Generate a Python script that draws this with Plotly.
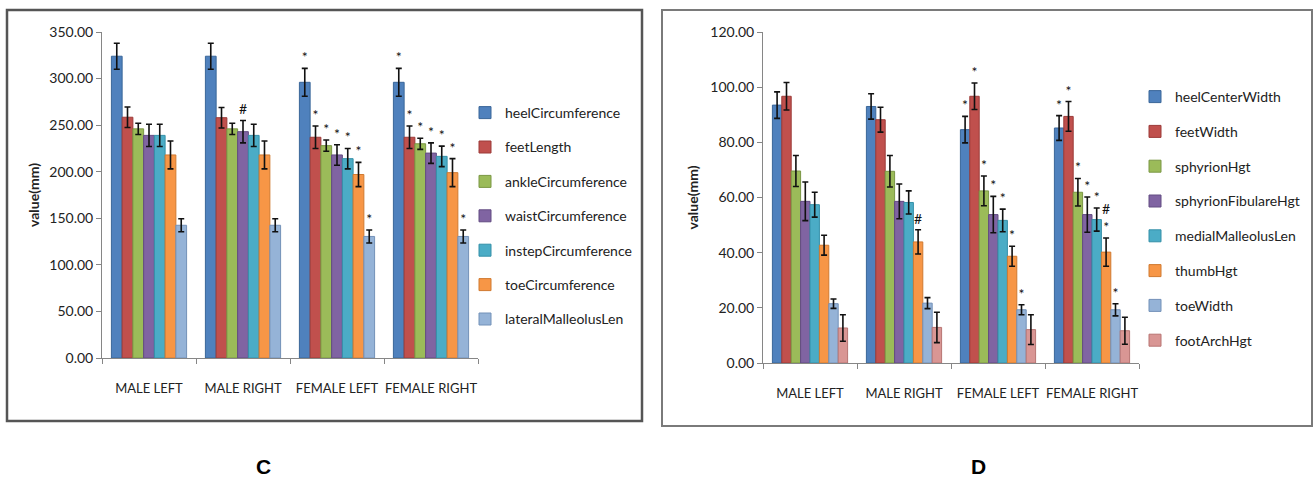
import plotly.graph_objects as go

W, H = 1314, 484

# ---------------- data: panel C ----------------
groups = ["MALE LEFT", "MALE RIGHT", "FEMALE LEFT", "FEMALE RIGHT"]

c_names = ["heelCircumference", "feetLength", "ankleCircumference", "waistCircumference",
           "instepCircumference", "toeCircumference", "lateralMalleolusLen"]
c_heel = [324, 324, 296, 296]
c_feet = [258.5, 258, 237, 237]
c_ankle = [246, 246, 228, 230]
c_waist = [239, 243, 218, 220]
c_instep = [239, 239, 214, 216.5]
c_toe = [218, 218, 197, 199]
c_lateral = [142.5, 142.5, 130.5, 130.5]
c_vals = [c_heel, c_feet, c_ankle, c_waist, c_instep, c_toe, c_lateral]

c_err_heel = [14, 14, 15, 15]
c_err_feet = [11, 11, 12, 12]
c_err_ankle = [6, 6, 6, 6]
c_err_waist = [12, 12, 11, 11]
c_err_instep = [12, 12, 11, 11]
c_err_toe = [15, 15, 13, 15]
c_err_lateral = [7, 7, 7, 7]
c_errs = [c_err_heel, c_err_feet, c_err_ankle, c_err_waist, c_err_instep, c_err_toe, c_err_lateral]

c_mark_heel = ["", "", "*", "*"]
c_mark_feet = ["", "", "*", "*"]
c_mark_ankle = ["", "", "*", "*"]
c_mark_waist = ["", "#", "*", "*"]
c_mark_instep = ["", "", "*", "*"]
c_mark_toe = ["", "", "*", "*"]
c_mark_lateral = ["", "", "*", "*"]
c_marks = [c_mark_heel, c_mark_feet, c_mark_ankle, c_mark_waist, c_mark_instep, c_mark_toe, c_mark_lateral]

c_ticks = [0, 50, 100, 150, 200, 250, 300, 350]

# ---------------- data: panel D ----------------
d_names = ["heelCenterWidth", "feetWidth", "sphyrionHgt", "sphyrionFibulareHgt",
           "medialMalleolusLen", "thumbHgt", "toeWidth", "footArchHgt"]
d_heel = [93.5, 93, 84.6, 85.2]
d_feet = [96.7, 88.2, 96.7, 89.4]
d_sphyrion = [69.6, 69.5, 62.4, 61.9]
d_fibulare = [58.6, 58.6, 53.8, 53.8]
d_medial = [57.4, 58.2, 51.7, 52]
d_thumb = [42.7, 43.9, 38.7, 40.2]
d_toe = [21.5, 21.7, 19.3, 19.3]
d_arch = [12.7, 12.9, 12.1, 11.7]
d_vals = [d_heel, d_feet, d_sphyrion, d_fibulare, d_medial, d_thumb, d_toe, d_arch]

d_err_heel = [4.8, 4.6, 4.8, 4.5]
d_err_feet = [5, 4.5, 4.8, 5.4]
d_err_sphyrion = [5.6, 5.7, 5.4, 5]
d_err_fibulare = [7, 6.3, 6.6, 6.4]
d_err_medial = [4.5, 4.2, 4.1, 4.2]
d_err_thumb = [3.6, 4.4, 3.6, 5.1]
d_err_toe = [1.7, 2, 1.8, 2.2]
d_err_arch = [4.8, 5.5, 5.4, 4.9]
d_errs = [d_err_heel, d_err_feet, d_err_sphyrion, d_err_fibulare, d_err_medial,
          d_err_thumb, d_err_toe, d_err_arch]

d_mark_heel = ["", "", "*", "*"]
d_mark_feet = ["", "", "*", "*"]
d_mark_sphyrion = ["", "", "*", "*"]
d_mark_fibulare = ["", "", "*", "*"]
d_mark_medial = ["", "", "*", "*"]
d_mark_thumb = ["", "#", "*", "#<br>*"]
d_mark_toe = ["", "", "*", "*"]
d_mark_arch = ["", "", "", ""]
d_marks = [d_mark_heel, d_mark_feet, d_mark_sphyrion, d_mark_fibulare, d_mark_medial,
           d_mark_thumb, d_mark_toe, d_mark_arch]

d_ticks = [0, 20, 40, 60, 80, 100, 120]

c_colors = ["#4F81BD", "#C0504D", "#9BBB59", "#8064A2", "#4BACC6", "#F79646", "#95B3D7"]
d_colors = ["#4F81BD", "#C0504D", "#9BBB59", "#8064A2", "#4BACC6", "#F79646", "#95B3D7", "#D99694"]
c_lines = ["#3A6699", "#9C3B38", "#7A9744", "#634C82", "#3590A8", "#D07A30", "#7391B8"]
d_lines = ["#3A6699", "#9C3B38", "#7A9744", "#634C82", "#3590A8", "#D07A30", "#7391B8", "#B87573"]

FONT = "Lato, Open Sans, sans-serif"

fig = go.Figure()


def add_panel(names, vals, errs, marks, colors, lines, xa, ya, legend):
    for i, (nm, v, e, mk) in enumerate(zip(names, vals, errs, marks)):
        fig.add_trace(go.Bar(
            x=groups, y=v, name=nm, xaxis=xa, yaxis=ya, offsetgroup=str(i),
            legend=legend, legendgroup=legend + str(i),
            marker=dict(color=colors[i], line=dict(color=lines[i], width=1)),
            error_y=dict(type="data", array=e, visible=True, color="#111111",
                         thickness=1.6, width=3),
        ))
    # transparent overlay bars that carry the significance marks above the error bars
    for i, (v, e, mk) in enumerate(zip(vals, errs, marks)):
        tops = [a + b for a, b in zip(v, e)]
        fig.add_trace(go.Bar(
            x=groups, y=tops, xaxis=xa, yaxis=ya, offsetgroup=str(i), showlegend=False,
            marker=dict(color="rgba(0,0,0,0)", line=dict(width=0)),
            text=mk, textposition="outside", constraintext="none", cliponaxis=False,
            textfont=dict(family=FONT, size=14, color="#111111"), hoverinfo="skip",
        ))


add_panel(c_names, c_vals, c_errs, c_marks, c_colors, c_lines, "x", "y", "legend")
add_panel(d_names, d_vals, d_errs, d_marks, d_colors, d_lines, "x2", "y2", "legend2")


def px(x):
    return x / W


def py(y):
    return 1 - y / H


axis_common = dict(showline=True, linecolor="#868686", linewidth=1, ticks="outside",
                   tickcolor="#868686", ticklen=5, showgrid=False, zeroline=False,
                   automargin=False)
ytick_font = dict(family=FONT, size=14, color="#222222")
xtick_font = dict(family=FONT, size=13, color="#222222")

fig.update_layout(
    width=W, height=H, margin=dict(l=0, r=0, t=0, b=0, autoexpand=False),
    paper_bgcolor="white", plot_bgcolor="white",
    barmode="group", bargap=0.2, bargroupgap=0,
    showlegend=True,
    font=dict(family=FONT, color="#222222"),
    xaxis=dict(domain=[px(102), px(478)], anchor="y", tickson="boundaries", tickangle=0,
               ticklabelstandoff=18, tickfont=xtick_font, **axis_common),
    yaxis=dict(domain=[py(358), py(32)], anchor="x", range=[0, 350], tickvals=c_ticks,
               tickformat=".2f", tickfont=ytick_font,
               title=dict(text="<b>value(mm)</b>", font=dict(family=FONT, size=14), standoff=6),
               **axis_common),
    xaxis2=dict(domain=[px(763), px(1139)], anchor="y2", tickson="boundaries", tickangle=0,
                ticklabelstandoff=18, tickfont=xtick_font, **axis_common),
    yaxis2=dict(domain=[py(363), py(32)], anchor="x2", range=[0, 120], tickvals=d_ticks,
                tickformat=".2f", tickfont=ytick_font,
                title=dict(text="<b>value(mm)</b>", font=dict(family=FONT, size=14), standoff=8),
                **axis_common),
    legend=dict(x=px(465), y=py(97), xanchor="left", yanchor="top", tracegroupgap=13.2,
                font=dict(family=FONT, size=14, color="#222222"), bgcolor="rgba(0,0,0,0)",
                itemclick=False),
    legend2=dict(x=px(1135), y=py(81), xanchor="left", yanchor="top", tracegroupgap=13.6,
                 font=dict(family=FONT, size=14, color="#222222"), bgcolor="rgba(0,0,0,0)",
                 itemclick=False),
    shapes=[
        dict(type="rect", xref="paper", yref="paper", x0=px(7), x1=px(642), y0=py(421), y1=py(10),
             line=dict(color="#555555", width=2.5)),
        dict(type="rect", xref="paper", yref="paper", x0=px(662), x1=px(1312), y0=py(426), y1=py(10),
             line=dict(color="#7a7a7a", width=2)),
    ],
    annotations=[
        dict(text="<b>C</b>", xref="paper", yref="paper", x=px(263), y=py(466),
             xanchor="center", yanchor="middle", showarrow=False,
             font=dict(family="Liberation Sans, Arial", size=21, color="black")),
        dict(text="<b>D</b>", xref="paper", yref="paper", x=px(978), y=py(466),
             xanchor="center", yanchor="middle", showarrow=False,
             font=dict(family="Liberation Sans, Arial", size=21, color="black")),
    ],
)

fig.write_html(
    "out.html",
    config={"displayModeBar": False},
    post_script="document.body.style.margin='0';document.documentElement.style.overflow='hidden';",
)
